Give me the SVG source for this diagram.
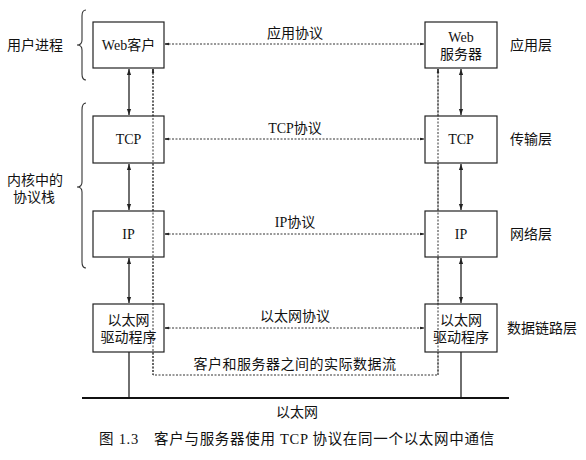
<svg xmlns="http://www.w3.org/2000/svg" width="586" height="460" viewBox="0 0 586 460">
<style>
.box{fill:#fff;stroke:#222;stroke-width:1.2}
.t{font-family:"Liberation Serif","Noto Sans CJK SC",serif;font-size:14px;fill:#111;text-anchor:middle;dominant-baseline:central}
.l{font-family:"Liberation Serif","Noto Sans CJK SC",serif;font-size:14px;fill:#111;dominant-baseline:central}
.solid{stroke:#222;stroke-width:1.3;fill:none}
.dot{stroke:#333;stroke-width:1;stroke-dasharray:2,1.5;fill:none}
.brace{stroke:#333;stroke-width:1.1;fill:none}
</style>
<defs>
<marker id="ah" viewBox="0 0 10 10" refX="10" refY="5" markerWidth="6" markerHeight="6" orient="auto-start-reverse" markerUnits="userSpaceOnUse">
<path d="M0,1.5 L10,5 L0,8.5 Z" fill="#222"/>
</marker>
<marker id="sh" viewBox="0 0 10 10" refX="10" refY="5" markerWidth="8" markerHeight="4" orient="auto-start-reverse" markerUnits="userSpaceOnUse">
<path d="M0,2 L10,3.5 L10,6.5 L0,8 Z" fill="#222"/>
</marker>
</defs>

<g id="labels-left">
<text class="l" x="7" y="45">用户进程</text>
<text class="l" x="7" y="180">内核中的</text>
<text class="l" x="13" y="197">协议栈</text>
<path class="brace" d="M86,10 Q82,10 82,16 L82,40 Q82,45 77,45 Q82,45 82,50 L82,74 Q82,80 86,80"/>
<path class="brace" d="M86,103 Q82,103 82,110 L82,182 Q82,187 77,187 Q82,187 82,192 L82,262 Q82,268 86,268"/>
</g>

<g id="labels-right">
<text class="l" x="510" y="45">应用层</text>
<text class="l" x="510" y="139">传输层</text>
<text class="l" x="510" y="234">网络层</text>
<text class="l" x="507" y="328">数据链路层</text>
</g>

<g id="connectors">
<line class="solid" x1="129" y1="69" x2="129" y2="115" marker-start="url(#ah)" marker-end="url(#ah)"/>
<line class="solid" x1="129" y1="164" x2="129" y2="210" marker-start="url(#ah)" marker-end="url(#ah)"/>
<line class="solid" x1="129" y1="258" x2="129" y2="303" marker-start="url(#ah)" marker-end="url(#ah)"/>
<line class="solid" x1="461" y1="69" x2="461" y2="115" marker-start="url(#ah)" marker-end="url(#ah)"/>
<line class="solid" x1="461" y1="164" x2="461" y2="210" marker-start="url(#ah)" marker-end="url(#ah)"/>
<line class="solid" x1="461" y1="258" x2="461" y2="303" marker-start="url(#ah)" marker-end="url(#ah)"/>
<line class="dot" x1="165" y1="44" x2="424" y2="44" marker-start="url(#sh)" marker-end="url(#sh)"/>
<line class="dot" x1="165" y1="139" x2="424" y2="139" marker-start="url(#sh)" marker-end="url(#sh)"/>
<line class="dot" x1="165" y1="234" x2="424" y2="234" marker-start="url(#sh)" marker-end="url(#sh)"/>
<line class="dot" x1="165" y1="328" x2="424" y2="328" marker-start="url(#sh)" marker-end="url(#sh)"/>
<path class="dot" d="M153,69 L153,375 L438,375 L438,69" marker-start="url(#sh)" marker-end="url(#sh)"/>
<line class="solid" x1="129" y1="352" x2="129" y2="398"/>
<line class="solid" x1="461" y1="352" x2="461" y2="398"/>
<line x1="82" y1="398" x2="509" y2="398" stroke="#111" stroke-width="2"/>
</g>

<g id="web-client"><rect class="box" x="93" y="22" width="71" height="46"/><text class="t" x="128.5" y="45">Web客户</text></g>
<g id="web-server"><rect class="box" x="425" y="22" width="72" height="46"/><text class="t" x="461" y="37">Web</text><text class="t" x="461" y="54">服务器</text></g>
<g id="tcp-left"><rect class="box" x="93" y="116" width="71" height="47"/><text class="t" x="128.5" y="139">TCP</text></g>
<g id="tcp-right"><rect class="box" x="425" y="116" width="72" height="47"/><text class="t" x="461" y="139">TCP</text></g>
<g id="ip-left"><rect class="box" x="93" y="211" width="71" height="46"/><text class="t" x="128.5" y="234">IP</text></g>
<g id="ip-right"><rect class="box" x="425" y="211" width="72" height="46"/><text class="t" x="461" y="234">IP</text></g>
<g id="eth-left"><rect class="box" x="93" y="304" width="71" height="48"/><text class="t" x="128.5" y="320">以太网</text><text class="t" x="128.5" y="337">驱动程序</text></g>
<g id="eth-right"><rect class="box" x="425" y="304" width="72" height="48"/><text class="t" x="461" y="320">以太网</text><text class="t" x="461" y="337">驱动程序</text></g>

<g id="flow-overlay">
<line class="dot" x1="153" y1="69" x2="153" y2="375"/>
<line class="dot" x1="438" y1="69" x2="438" y2="375"/>
</g>

<g id="edge-labels">
<text class="t" x="295" y="33">应用协议</text>
<text class="t" x="295" y="128">TCP协议</text>
<text class="t" x="295" y="222">IP协议</text>
<text class="t" x="295" y="316">以太网协议</text>
<text class="t" x="295" y="364" style="letter-spacing:0.5px">客户和服务器之间的实际数据流</text>
<text class="t" x="297" y="412">以太网</text>
<text class="t" x="297" y="439" style="font-size:14.5px;letter-spacing:0.7px">图 1.3　客户与服务器使用 TCP 协议在同一个以太网中通信</text>
</g>
</svg>
